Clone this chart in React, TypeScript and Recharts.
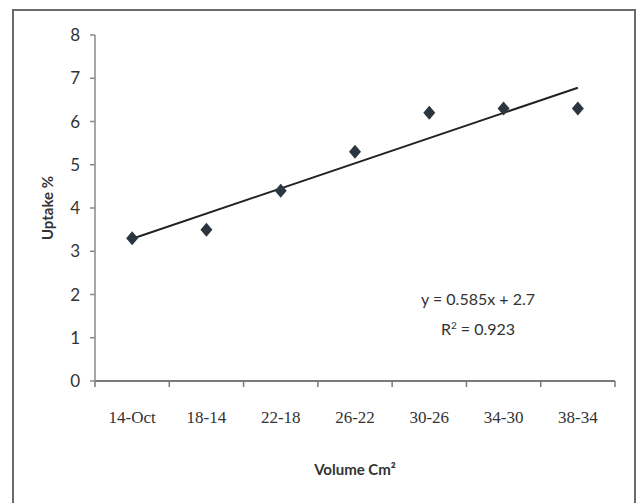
import { ComposedChart, Line, XAxis, YAxis } from 'recharts';

const categories = ['14-Oct', '18-14', '22-18', '26-22', '30-26', '34-30', '38-34'];
const uptake = [3.3, 3.5, 4.4, 5.3, 6.2, 6.3, 6.3];
// linear trendline, only its two ends are drawn
const trend = [3.29, null, null, null, null, null, 6.78];
const yTicks = [0, 1, 2, 3, 4, 5, 6, 7, 8];
const boundaryTicks = [0.5, 1.5, 2.5, 3.5, 4.5, 5.5, 6.5, 7.5];
const centerTicks = [1, 2, 3, 4, 5, 6, 7];

const data = categories.map((c, i) => ({
    x: i + 1,
    label: c,
    uptake: uptake[i],
    trend: trend[i]
}));

const Diamond = (props: any) => {
    const { cx, cy, index } = props;
    if (cx == null || cy == null) return null;
    return (
        <polygon
            key={'d' + index}
            points={`${cx},${cy - 7} ${cx + 6},${cy} ${cx},${cy + 7} ${cx - 6},${cy}`}
            fill="#2c3640"
        />
    );
};

const YTitle = (props: any) => {
    const { viewBox } = props;
    const cy = viewBox.y + viewBox.height / 2;
    return (
        <text
            x={47}
            y={cy}
            transform={`rotate(-90, 47, ${cy})`}
            textAnchor="middle"
            dominantBaseline="central"
            fontFamily="Lato, 'Open Sans', sans-serif"
            fontWeight={700}
            fontSize={15}
            fill="#333"
        >
            Uptake %
        </text>
    );
};

export default function App() {
    return (
        <div style={{ position: 'fixed', left: 0, top: 0, width: 638, height: 503, background: '#fff', overflow: 'hidden' }}>
            <div
                style={{
                    position: 'absolute',
                    left: 12,
                    top: 9,
                    width: 620,
                    height: 500,
                    border: '2px solid #6a6a6a'
                }}
            />
            <ComposedChart
                width={638}
                height={503}
                data={data}
                margin={{ top: 35, right: 23, left: 35, bottom: 28 }}
                style={{ position: 'absolute', left: 0, top: 0 }}
            >
                <XAxis
                    xAxisId="grid"
                    dataKey="x"
                    type="number"
                    domain={[0.5, 7.5]}
                    ticks={boundaryTicks}
                    tickFormatter={() => ''}
                    height={1}
                    tickSize={6}
                    axisLine={{ stroke: '#7a7a7a', strokeWidth: 2 }}
                    tickLine={{ stroke: '#7a7a7a', strokeWidth: 1.5 }}
                />
                <XAxis
                    xAxisId="labels"
                    dataKey="x"
                    type="number"
                    domain={[0.5, 7.5]}
                    ticks={centerTicks}
                    tickFormatter={(v: number) => categories[v - 1]}
                    height={93}
                    axisLine={false}
                    tickLine={false}
                    tickSize={0}
                    tickMargin={29}
                    interval={0}
                    tick={{ fontFamily: "'Liberation Serif', serif", fontSize: 17, fill: '#333' }}
                    label={{
                        value: 'Volume Cm²',
                        position: 'insideBottom',
                        offset: 0,
                        fontFamily: "Lato, 'Open Sans', sans-serif",
                        fontWeight: 700,
                        fontSize: 15,
                        fill: '#333'
                    }}
                />
                <YAxis
                    domain={[0, 8]}
                    ticks={yTicks}
                    width={60}
                    stroke="#8a8a8a"
                    strokeWidth={1.5}
                    tickSize={5}
                    tickMargin={10}
                    tick={{ fontFamily: "Lato, 'Open Sans', sans-serif", fontSize: 17, fill: '#333' }}
                    label={<YTitle />}
                />
                <Line
                    xAxisId="grid"
                    dataKey="trend"
                    connectNulls
                    stroke="#222"
                    strokeWidth={2}
                    dot={false}
                    isAnimationActive={false}
                />
                <Line
                    xAxisId="grid"
                    dataKey="uptake"
                    stroke="none"
                    dot={<Diamond />}
                    activeDot={false}
                    isAnimationActive={false}
                />
            </ComposedChart>
            <div
                style={{
                    position: 'absolute',
                    left: 378,
                    top: 285,
                    width: 200,
                    textAlign: 'center',
                    fontFamily: "Lato, 'Open Sans', sans-serif",
                    fontSize: 16,
                    lineHeight: '27px',
                    color: '#333'
                }}
            >
                <div>y = 0.585x + 2.7</div>
                <div>
                    R<sup style={{ fontSize: 10 }}>2</sup> = 0.923
                </div>
            </div>
        </div>
    );
}
